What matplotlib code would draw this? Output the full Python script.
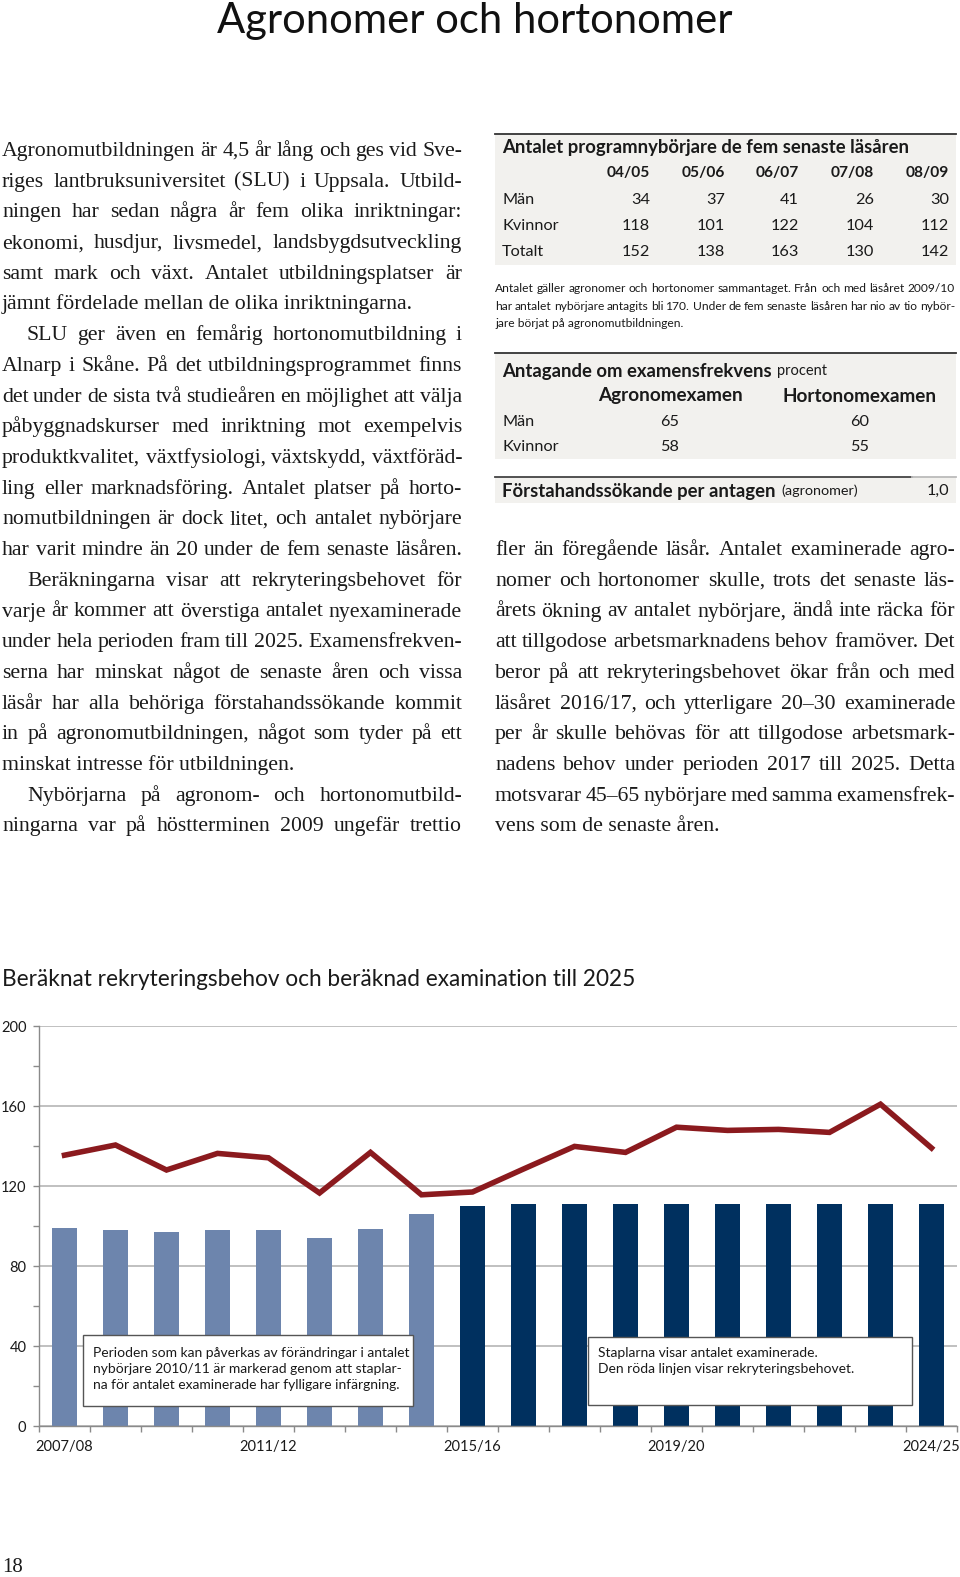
import matplotlib
matplotlib.use('Agg')
import matplotlib.pyplot as plt
import numpy as np
from matplotlib.patches import Rectangle

# ---------------- data ----------------
categories = ['2007/08', '2008/09', '2009/10', '2010/11', '2011/12', '2012/13',
              '2013/14', '2014/15', '2015/16', '2016/17', '2017/18', '2018/19',
              '2019/20', '2020/21', '2021/22', '2022/23', '2023/24', '2024/25']
examinerade = [99, 98, 97, 98, 98, 94, 98.5, 106, 110, 111, 111, 111, 111, 111, 111, 111, 111, 111]
rekrytering = [135.4, 140.5, 128, 136.3, 134.1, 116.5, 136.8, 115.6, 117, 128.5,
               139.8, 136.8, 149.4, 147.8, 148.3, 146.8, 160.9, 139]
n_light = 8  # bars with lighter fill (before 2015/16)
xtick_labels = ['2007/08', '2011/12', '2015/16', '2019/20', '2024/25']
yticks = [0, 40, 80, 120, 160, 200]

t1_years = ['04/05', '05/06', '06/07', '07/08', '08/09']
t1_rows = ['Män', 'Kvinnor', 'Totalt']
t1_man = [34, 37, 41, 26, 30]
t1_kvinnor = [118, 101, 122, 104, 112]
t1_totalt = [152, 138, 163, 130, 142]

t2_cols = ['Agronomexamen', 'Hortonomexamen']
t2_rows = ['Män', 'Kvinnor']
t2_agro = [65, 58]
t2_horto = [60, 55]
forsta_ratio = '1,0'

left_col = [
    ("Agronomutbildningen är 4,5 år lång och ges vid Sve-", False, True),
    ("riges lantbruksuniversitet (SLU) i Uppsala. Utbild-", False, True),
    ("ningen har sedan några år fem olika inriktningar:", False, True),
    ("ekonomi, husdjur, livsmedel, landsbygdsutveckling", False, True),
    ("samt mark och växt. Antalet utbildningsplatser är", False, True),
    ("jämnt fördelade mellan de olika inriktningarna.", False, False),
    ("SLU ger även en femårig hortonomutbildning i", True, True),
    ("Alnarp i Skåne. På det utbildningsprogrammet finns", False, True),
    ("det under de sista två studieåren en möjlighet att välja", False, True),
    ("påbyggnadskurser med inriktning mot exempelvis", False, True),
    ("produktkvalitet, växtfysiologi, växtskydd, växtföräd-", False, True),
    ("ling eller marknadsföring. Antalet platser på horto-", False, True),
    ("nomutbildningen är dock litet, och antalet nybörjare", False, True),
    ("har varit mindre än 20 under de fem senaste läsåren.", False, True),
    ("Beräkningarna visar att rekryteringsbehovet för", True, True),
    ("varje år kommer att överstiga antalet nyexaminerade", False, True),
    ("under hela perioden fram till 2025. Examensfrekven-", False, True),
    ("serna har minskat något de senaste åren och vissa", False, True),
    ("läsår har alla behöriga förstahandssökande kommit", False, True),
    ("in på agronomutbildningen, något som tyder på ett", False, True),
    ("minskat intresse för utbildningen.", False, False),
    ("Nybörjarna på agronom- och hortonomutbild-", True, True),
    ("ningarna var på höstterminen 2009 ungefär trettio", False, True),
]
right_col = [
    ("fler än föregående läsår. Antalet examinerade agro-", False, True),
    ("nomer och hortonomer skulle, trots det senaste läs-", False, True),
    ("årets ökning av antalet nybörjare, ändå inte räcka för", False, True),
    ("att tillgodose arbetsmarknadens behov framöver. Det", False, True),
    ("beror på att rekryteringsbehovet ökar från och med", False, True),
    ("läsåret 2016/17, och ytterligare 20–30 examinerade", False, True),
    ("per år skulle behövas för att tillgodose arbetsmark-", False, True),
    ("nadens behov under perioden 2017 till 2025. Detta", False, True),
    ("motsvarar 45–65 nybörjare med samma examensfrek-", False, True),
    ("vens som de senaste åren.", False, False),
]
note_lines = [
    ("Antalet gäller agronomer och hortonomer sammantaget. Från och med läsåret 2009/10", True),
    ("har antalet nybörjare antagits bli 170. Under de fem senaste läsåren har nio av tio nybör-", True),
    ("jare börjat på agronomutbildningen.", False),
]

# ---------------- styles ----------------
SERIF = ['Liberation Serif', 'DejaVu Serif']
SANS = ['Lato', 'DejaVu Sans']
TXT = '#1a1a1a'
LIGHT = '#6d85ad'
DARK = '#00305f'
RED = '#8b1a1e'
GRID = '#c0c0c0'
AXC = '#8a8a8a'
TABBG = '#f2f1ee'

W, H = 960, 1577
fig = plt.figure(figsize=(W / 100, H / 100), dpi=100)
fig.patch.set_facecolor('white')

# ---------------- chart ----------------
ax = fig.add_axes([39 / W, 1 - 1426 / H, 918 / W, 400 / H])
x = np.arange(len(categories))
bar_colors = [LIGHT] * n_light + [DARK] * (len(categories) - n_light)
ax.bar(x, examinerade, width=0.5, color=bar_colors, zorder=2)
ax.plot(x, rekrytering, color=RED, lw=4.0, zorder=3, solid_joinstyle='miter')
ax.set_xlim(-0.5, len(categories) - 0.5)
ax.set_ylim(0, 200)
ax.set_yticks(yticks)
ax.set_yticks([20, 60, 100, 140, 180], minor=True)
ax.yaxis.grid(True, which='major', color=GRID, lw=1.4, zorder=0)
ax.set_axisbelow(True)
for s in ['top', 'right']:
    ax.spines[s].set_visible(False)
for s in ['left', 'bottom']:
    ax.spines[s].set_color(AXC)
    ax.spines[s].set_linewidth(1.0)
ax.set_xticks([categories.index(c) for c in xtick_labels])
ax.set_xticklabels(xtick_labels)
ax.set_xticks(np.arange(-0.5, len(categories), 1.0), minor=True)
ax.tick_params(axis='x', which='major', length=0, pad=10, labelsize=10.5, labelcolor=TXT)
ax.tick_params(axis='x', which='minor', length=4, color=AXC, width=1)
ax.tick_params(axis='y', which='both', length=4, color=AXC, width=1, pad=5,
               labelsize=10.5, labelcolor=TXT)
for lab in ax.get_xticklabels() + ax.get_yticklabels():
    lab.set_family(SANS)

# ---------------- page overlay ----------------
page = fig.add_axes([0, 0, 1, 1])
page.set_xlim(0, W)
page.set_ylim(H, 0)
page.axis('off')
page.patch.set_visible(False)
page.set_zorder(5)
renderer = fig.canvas.get_renderer()


def text_w(s, size, family, weight='normal'):
    t = page.text(0, 0, s, fontsize=size, family=family, weight=weight)
    w = t.get_window_extent(renderer).width
    t.remove()
    return w


def fit_size(s, target, family, weight='normal', size0=12):
    return size0 * target / text_w(s, size0, family, weight)


def draw_line(x0, x1, y, s, justify, size, family, weight='normal', color=TXT):
    words = s.split(' ')
    if not justify or len(words) == 1:
        page.text(x0, y, s, fontsize=size, family=family, weight=weight,
                  color=color, va='baseline', ha='left')
        return
    ts = [page.text(0, y, w, fontsize=size, family=family, weight=weight,
                    color=color, va='baseline', ha='left') for w in words]
    ws = [t.get_window_extent(renderer).width for t in ts]
    gap = (x1 - x0 - sum(ws)) / (len(words) - 1)
    xx = x0
    for t, w in zip(ts, ws):
        t.set_x(xx)
        xx += w + gap


# page title (partially cut at top edge)
ts = fit_size("Agronomer och hortonomer", 514, SANS)
page.text(475, 33, "Agronomer och hortonomer", fontsize=ts, family=SANS,
          color='#111111', ha='center', va='baseline')

# body text: largest size that keeps a minimum word gap on every justified line
MIN_GAP = 3.2
body_size = fit_size("jämnt fördelade mellan de olika inriktningarna.", 428, SERIF)
for s, ind, just in left_col + right_col:
    if just:
        words = s.split(' ')
        wsum = sum(text_w(w, 12, SERIF) for w in words)
        avail = 460 - (25 if ind else 0) - (len(words) - 1) * MIN_GAP
        body_size = min(body_size, 12 * avail / wsum)
LINE = 30.7
for i, (s, ind, just) in enumerate(left_col):
    draw_line(2 + (25 if ind else 0), 462, 156 + i * LINE, s, just, body_size, SERIF)
for i, (s, ind, just) in enumerate(right_col):
    draw_line(495 + (25 if ind else 0), 955, 156 + (13 + i) * LINE, s, just, body_size, SERIF)

# table 1
page.add_patch(Rectangle((495, 134), 461, 131, fc=TABBG, ec='none', zorder=0))
page.plot([495, 956], [134, 134], color='#333333', lw=1.3)
t1_title = "Antalet programnybörjare de fem senaste läsåren"
tsz = fit_size(t1_title, 405, SANS, 'bold')
page.text(502, 148, t1_title, fontsize=tsz, family=SANS, weight='bold', color=TXT, va='center')
col_r = [650, 725, 799, 874, 949]
cell = fit_size("Kvinnor", 56, SANS)
hdr = fit_size("04/05", 43, SANS, 'bold')
for xr, yr in zip(col_r, t1_years):
    page.text(xr, 173, yr, fontsize=hdr, family=SANS, weight='bold', color=TXT, ha='right', va='center')
for yy, name, vals in zip([200, 226, 252], t1_rows, [t1_man, t1_kvinnor, t1_totalt]):
    page.text(502, yy, name, fontsize=cell, family=SANS, color=TXT, va='center')
    for xr, v in zip(col_r, vals):
        page.text(xr, yy, str(v), fontsize=cell, family=SANS, color=TXT, ha='right', va='center')

# note under table 1
nsz = fit_size(note_lines[2][0], 188, SANS)
for i, (s, just) in enumerate(note_lines):
    draw_line(495, 955, 292 + i * 17.7, s, just, nsz, SANS)

# table 2
page.add_patch(Rectangle((495, 353), 461, 106, fc=TABBG, ec='none', zorder=0))
page.plot([495, 956], [353, 353], color='#333333', lw=1.3)
t2_title = "Antagande om examensfrekvens"
tsz2 = fit_size(t2_title, 267, SANS, 'bold')
t = page.text(502, 371, t2_title, fontsize=tsz2, family=SANS, weight='bold', color=TXT, va='center')
w2 = t.get_window_extent(renderer).width
page.text(502 + w2 + 5, 371, "procent", fontsize=fit_size("procent", 50, SANS),
          family=SANS, color=TXT, va='center')
hdr2 = fit_size(t2_cols[0], 144, SANS, 'bold')
for xc, cname in zip([670, 860], t2_cols):
    page.text(xc, 396, cname, fontsize=hdr2, family=SANS, weight='bold', color=TXT, ha='center', va='center')
for yy, name, a, h in zip([422, 447], t2_rows, t2_agro, t2_horto):
    page.text(502, yy, name, fontsize=cell, family=SANS, color=TXT, va='center')
    page.text(670, yy, str(a), fontsize=cell, family=SANS, color=TXT, ha='center', va='center')
    page.text(860, yy, str(h), fontsize=cell, family=SANS, color=TXT, ha='center', va='center')

# table 3
page.add_patch(Rectangle((495, 477), 461, 26, fc=TABBG, ec='none', zorder=0))
page.plot([495, 912], [477, 477], color='#444444', lw=1.3)
page.plot([912, 956], [477, 477], color='#bbbbbb', lw=1.3)
t3_title = "Förstahandssökande per antagen"
t = page.text(502, 491, t3_title, fontsize=tsz2, family=SANS, weight='bold', color=TXT, va='center')
w3 = t.get_window_extent(renderer).width
page.text(502 + w3 + 6, 491, "(agronomer)", fontsize=fit_size("(agronomer)", 76, SANS),
          family=SANS, color=TXT, va='center')
page.text(949, 491, forsta_ratio, fontsize=cell, family=SANS, color=TXT, ha='right', va='center')

# chart title
ctitle = "Beräknat rekryteringsbehov och beräknad examination till 2025"
csz = fit_size(ctitle, 631, SANS)
page.text(2, 980, ctitle, fontsize=csz, family=SANS, color=TXT, va='center')

# annotation boxes
box1 = ["Perioden som kan påverkas av förändringar i antalet",
        "nybörjare 2010/11 är markerad genom att staplar-",
        "na för antalet examinerade har fylligare infärgning."]
box2 = ["Staplarna visar antalet examinerade.",
        "Den röda linjen visar rekryteringsbehovet."]
page.add_patch(Rectangle((83, 1335), 330, 71, fc='white', ec='#555555', lw=1.0, zorder=6))
page.add_patch(Rectangle((588, 1337), 324, 68, fc='white', ec='#555555', lw=1.0, zorder=6))
bsz = fit_size(box1[0], 316, SANS)
for i, s in enumerate(box1):
    page.text(93, 1353 + i * 16, s, fontsize=bsz, family=SANS, color=TXT, va='center', zorder=7)
for i, s in enumerate(box2):
    page.text(598, 1353 + i * 16, s, fontsize=bsz, family=SANS, color=TXT, va='center', zorder=7)

# page number
page.text(2, 1572, "18", fontsize=15, family=SERIF, color=TXT, va='baseline')

fig.savefig('out.png', dpi=100, facecolor='white')
